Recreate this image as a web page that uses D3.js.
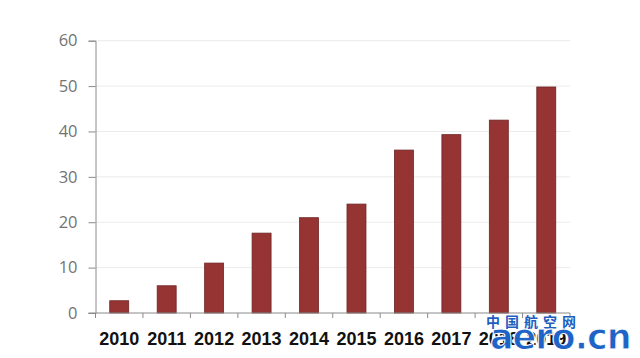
<!DOCTYPE html>
<html><head><meta charset="utf-8">
<script src="https://cdn.jsdelivr.net/npm/d3@7"></script>
<style>body{margin:0;background:#fff;}svg{display:block;}</style>
</head><body>
<svg id="c" width="640" height="358"></svg>
<script>
const years = ["2010","2011","2012","2013","2014","2015","2016","2017","2018","2019"];
const values = [2.7, 6.0, 11.0, 17.6, 21.0, 24.0, 35.9, 39.3, 42.5, 49.8];
const yTicks = [0, 10, 20, 30, 40, 50, 60];

const svg = d3.select("#c");
const mLeft = 95.5, mRight = 570, mTop = 40.7, mBottom = 313;
const x = d3.scaleBand().domain(years).range([mLeft, mRight]).paddingInner(0.6).paddingOuter(0.3);
const y = d3.scaleLinear().domain([0, 60]).range([mBottom, mTop]);

// gridlines
svg.append("g").selectAll("line").data(yTicks.filter(d => d > 0)).join("line")
  .attr("x1", mLeft).attr("x2", mRight)
  .attr("y1", d => y(d)).attr("y2", d => y(d))
  .attr("stroke", "#ebebeb").attr("stroke-width", 1);

// y axis
const ya = svg.append("g").attr("transform", `translate(${mLeft},0)`)
  .call(d3.axisLeft(y).tickValues(yTicks).tickSize(7).tickPadding(11));
ya.select(".domain").attr("stroke", "#8a8a8a");
ya.selectAll(".tick line").attr("stroke", "#8a8a8a");
ya.selectAll("text").attr("fill", "#737373").attr("font-size", 16.5)
  .attr("font-family", "'Open Sans', 'Liberation Sans', sans-serif");

// bars
svg.append("g").selectAll("rect").data(values).join("rect")
  .attr("x", (d, i) => x(years[i]))
  .attr("width", x.bandwidth())
  .attr("y", d => y(d))
  .attr("height", d => mBottom - y(d))
  .attr("fill", "#963434").attr("stroke", "#6e2424").attr("stroke-width", 0.8);

// x axis line and ticks at band boundaries
const bounds = d3.range(years.length + 1).map(i => mLeft + i * (mRight - mLeft) / years.length);
svg.append("line").attr("x1", mLeft - 7).attr("x2", mRight).attr("y1", mBottom).attr("y2", mBottom)
  .attr("stroke", "#8a8a8a");
svg.append("g").selectAll("line").data(bounds).join("line")
  .attr("x1", d => d).attr("x2", d => d).attr("y1", mBottom).attr("y2", mBottom + 5)
  .attr("stroke", "#8a8a8a");

// x labels
svg.append("g").selectAll("text").data(years).join("text")
  .attr("x", d => x(d) + x.bandwidth() / 2)
  .attr("y", 345)
  .attr("text-anchor", "middle")
  .attr("font-size", 18).attr("font-weight", "bold")
  .attr("font-family", "'Liberation Sans', Arial, sans-serif")
  .attr("fill", "#111")
  .text(d => d);

// watermark
svg.append("text").attr("x", 486).attr("y", 327)
  .attr("font-size", 14).attr("font-weight", "bold")
  .attr("font-family", "'Noto Sans CJK SC', sans-serif")
  .attr("letter-spacing", 5)
  .attr("fill", "#1f5fbf").text("中国航空网");
svg.append("text").attr("x", 490).attr("y", 349)
  .attr("font-size", 35).attr("font-weight", "bold")
  .attr("font-family", "'DejaVu Sans', sans-serif")
  .attr("fill", "#1f63c6").attr("stroke", "#ffffff").attr("stroke-width", 1)
  .attr("letter-spacing", -1)
  .text("aero.cn");
</script>
</body></html>
